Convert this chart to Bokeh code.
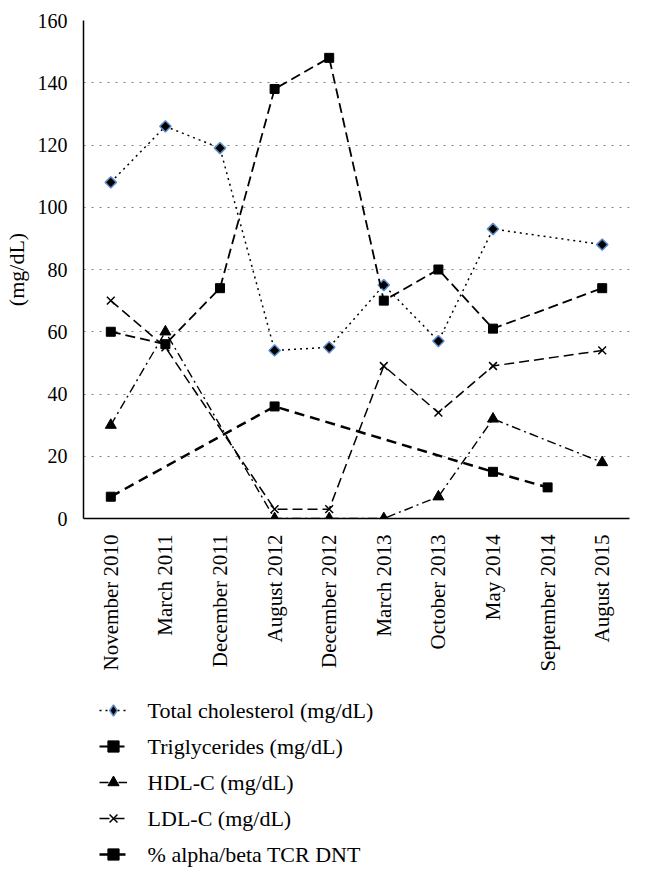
import math
from bokeh.plotting import figure
from bokeh.layouts import column
from bokeh.models import FactorRange, Range1d, Legend, LegendItem, FixedTicker
from bokeh.core.properties import value
from bokeh.embed import file_html
from bokeh.resources import INLINE

dates = ["November 2010", "March 2011", "December 2011", "August 2012", "December 2012",
         "March 2013", "October 2013", "May 2014", "September 2014", "August 2015"]
total_chol = [108, 126, 119, 54, 55, 75, 57, 93, None, 88]
triglycerides = [60, 56, 74, 138, 148, 70, 80, 61, None, 74]
hdl_c = [30, 60, None, 0, 0, 0, 7, 32, None, 18]
ldl_c = [70, 55, None, 3, 3, 49, 34, 49, None, 54]
dnt = [7, None, None, 36, None, None, None, 15, 10, None]
y_ticks = [0, 20, 40, 60, 80, 100, 120, 140, 160]
labels = ["Total cholesterol (mg/dL)", "Triglycerides (mg/dL)", "HDL-C (mg/dL)",
          "LDL-C (mg/dL)", "% alpha/beta TCR DNT"]

FONT = "Liberation Serif"

def present(vals):
    xs = [d for d, v in zip(dates, vals) if v is not None]
    ys = [v for v in vals if v is not None]
    return xs, ys

series = [
    (total_chol, dict(line_width=1.5, line_dash="2 4"),
     dict(marker="square", angle=math.pi / 4, size=8, fill_color="black",
          line_color="#5b8fcb", line_width=1.5)),
    (triglycerides, dict(line_width=1.8, line_dash="10 5"),
     dict(marker="square", size=9, fill_color="black", line_color="black")),
    (hdl_c, dict(line_width=1.4, line_dash="9 4 2 4"),
     dict(marker="triangle", size=11, fill_color="black", line_color="black")),
    (ldl_c, dict(line_width=1.5, line_dash="10 5"),
     dict(marker="x", size=11, line_color="black", line_width=1.5)),
    (dnt, dict(line_width=2.5, line_dash="10 6"),
     dict(marker="square", size=9, fill_color="black", line_color="black")),
]

# ---------------- main chart ----------------
p = figure(x_range=FactorRange(factors=dates), y_range=Range1d(0, 160),
           width=636, height=690, output_backend="svg", toolbar_location=None,
           min_border_left=75, min_border_right=7, min_border_top=20, min_border_bottom=172)
p.outline_line_color = None

for ax in (p.xaxis[0], p.yaxis[0]):
    ax.axis_line_color = "black"
    ax.axis_line_width = 1.5
    ax.major_tick_line_color = None
    ax.minor_tick_line_color = None
    ax.major_label_text_font = FONT
    ax.major_label_text_color = "black"
    ax.major_label_standoff = 10
p.xaxis.major_label_orientation = math.pi / 2
p.xaxis.major_label_text_font_size = "21px"
p.yaxis.major_label_text_font_size = "20px"
p.yaxis.ticker = FixedTicker(ticks=y_ticks)
p.yaxis.axis_label = "(mg/dL)"
p.yaxis.axis_label_text_font = FONT
p.yaxis.axis_label_text_color = "black"
p.yaxis.axis_label_text_font_style = "normal"
p.yaxis.axis_label_text_font_size = "22px"
p.yaxis.axis_label_standoff = 6

p.xgrid.visible = False
p.ygrid.grid_line_color = "#7f7f7f"
p.ygrid.grid_line_dash = "2 6"
p.ygrid.grid_line_width = 1

for vals, lkw, mkw in series:
    xs, ys = present(vals)
    p.line(xs, ys, line_color="black", **lkw)
    p.scatter(xs, ys, **mkw)

# ---------------- legend panel ----------------
LG_H = 182
ROW = 36
FRAME_W = 554
lg = figure(x_range=FactorRange(factors=dates), y_range=Range1d(-20, -10),
            width=636, height=LG_H, output_backend="svg", toolbar_location=None,
            x_axis_location=None, y_axis_location=None,
            min_border_left=75, min_border_right=7, min_border_top=0, min_border_bottom=0)
lg.outline_line_color = None
lg.grid.visible = False
lg.extra_y_ranges = {"px": Range1d(0, LG_H)}

items = []
for (vals, lkw, mkw), lab in zip(series, labels):
    xs, ys = present(vals)
    mk = dict(mkw)
    if mk["marker"] == "square" and "angle" in mk:
        mk = dict(mk, marker="diamond")
        mk.pop("angle")
    r1 = lg.line(xs, ys, line_color="black", **lkw)
    r2 = lg.scatter(xs, ys, **mk)
    items.append(LegendItem(label=" ", renderers=[r1, r2]))

legend = Legend(items=items, location=(16, 0), orientation="vertical",
                glyph_width=28, glyph_height=ROW, label_height=ROW, spacing=0,
                padding=0, margin=0, label_standoff=0,
                border_line_color=None, background_fill_alpha=0)
lg.add_layout(legend)

# legend texts drawn as a text glyph (serif, as in the reference)
text_x = 65 / (FRAME_W / len(dates))  # synthetic categorical coordinate
lg.text(x=[text_x] * len(labels), y=[LG_H - 2 - ROW / 2 - ROW * i for i in range(len(labels))],
        text=labels, y_range_name="px",
        text_font=value(FONT), text_font_size="22px", text_color="black",
        text_baseline="middle", text_align="left")

open("out.html", "w").write(file_html(column(p, lg, spacing=0), INLINE))
